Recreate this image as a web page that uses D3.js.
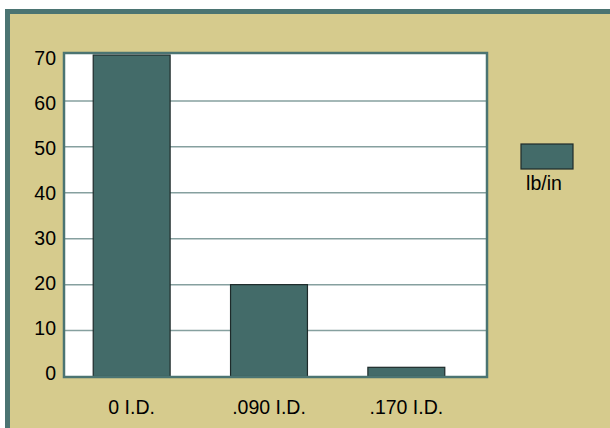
<!DOCTYPE html>
<html>
<head>
<meta charset="utf-8">
<script src="https://cdn.jsdelivr.net/npm/d3@7"></script>
<style>
  html, body { margin: 0; padding: 0; background: #ffffff; }
  svg { display: block; font-family: "Liberation Sans", Arial, sans-serif; }
</style>
</head>
<body>
<div id="chart"></div>
<script>
// chart data
const categories = ['0 I.D.', '.090 I.D.', '.170 I.D.'];
const values = [70, 20, 2];
const yTicks = [0, 10, 20, 30, 40, 50, 60, 70];
const seriesName = 'lb/in';

const W = 610, H = 428;
const TEAL = '#4b7472';
const BAR = '#436b69';
const TAN = '#d6cb8d';
const FONT = 19.5;

const svg = d3.select('#chart').append('svg')
  .attr('width', W).attr('height', H);

// outer frame - only top and left edges show inside the window
svg.append('rect')
  .attr('x', 7.5).attr('y', 11.5)
  .attr('width', W + 20).attr('height', H + 20)
  .attr('fill', TAN)
  .attr('stroke', TEAL)
  .attr('stroke-width', 5);

const plot = { left: 64, top: 53, right: 487, bottom: 377 };

const y = d3.scaleLinear().domain([0, 70]).range([376.5, 55]);
// tick labels sit on a slightly tighter scale than the gridlines
const yLabel = d3.scaleLinear().domain([0, 70]).range([372.7, 58]);
const x = d3.scaleBand().domain(categories).range([63, 475]).paddingInner(0.44).paddingOuter(0.22);

// plot background
svg.append('rect')
  .attr('x', plot.left).attr('y', plot.top)
  .attr('width', plot.right - plot.left).attr('height', plot.bottom - plot.top)
  .attr('fill', '#ffffff');

// gridlines
svg.append('g').selectAll('line')
  .data(yTicks.filter(t => t > 0 && t < 70))
  .enter().append('line')
  .attr('x1', plot.left).attr('x2', plot.right)
  .attr('y1', d => y(d)).attr('y2', d => y(d))
  .attr('stroke', '#86a09f')
  .attr('stroke-width', 1.5);

// bars
svg.append('g').selectAll('rect')
  .data(values)
  .enter().append('rect')
  .attr('x', (d, i) => x(categories[i]))
  .attr('y', d => y(d))
  .attr('width', x.bandwidth())
  .attr('height', d => y(0) - y(d))
  .attr('fill', BAR)
  .attr('stroke', '#1e2a2a')
  .attr('stroke-width', 1.2);

// plot border
svg.append('rect')
  .attr('x', plot.left).attr('y', plot.top)
  .attr('width', plot.right - plot.left).attr('height', plot.bottom - plot.top)
  .attr('fill', 'none')
  .attr('stroke', TEAL)
  .attr('stroke-width', 2.5);

// y axis labels
svg.append('g').selectAll('text')
  .data(yTicks)
  .enter().append('text')
  .attr('x', 56)
  .attr('y', d => yLabel(d))
  .attr('dy', '0.36em')
  .attr('text-anchor', 'end')
  .attr('font-size', FONT)
  .attr('fill', '#000')
  .text(d => d);

// category labels
svg.append('g').selectAll('text')
  .data(categories)
  .enter().append('text')
  .attr('x', d => x(d) + x.bandwidth() / 2)
  .attr('y', 414)
  .attr('text-anchor', 'middle')
  .attr('font-size', FONT)
  .attr('fill', '#000')
  .text(d => d);

// legend
const legend = svg.append('g');
legend.append('rect')
  .attr('x', 521).attr('y', 144)
  .attr('width', 52).attr('height', 25)
  .attr('fill', BAR)
  .attr('stroke', '#1e2a2a')
  .attr('stroke-width', 1.2);
legend.append('text')
  .attr('x', 544).attr('y', 190)
  .attr('text-anchor', 'middle')
  .attr('font-size', FONT)
  .attr('fill', '#000')
  .text(seriesName);
</script>
</body>
</html>
